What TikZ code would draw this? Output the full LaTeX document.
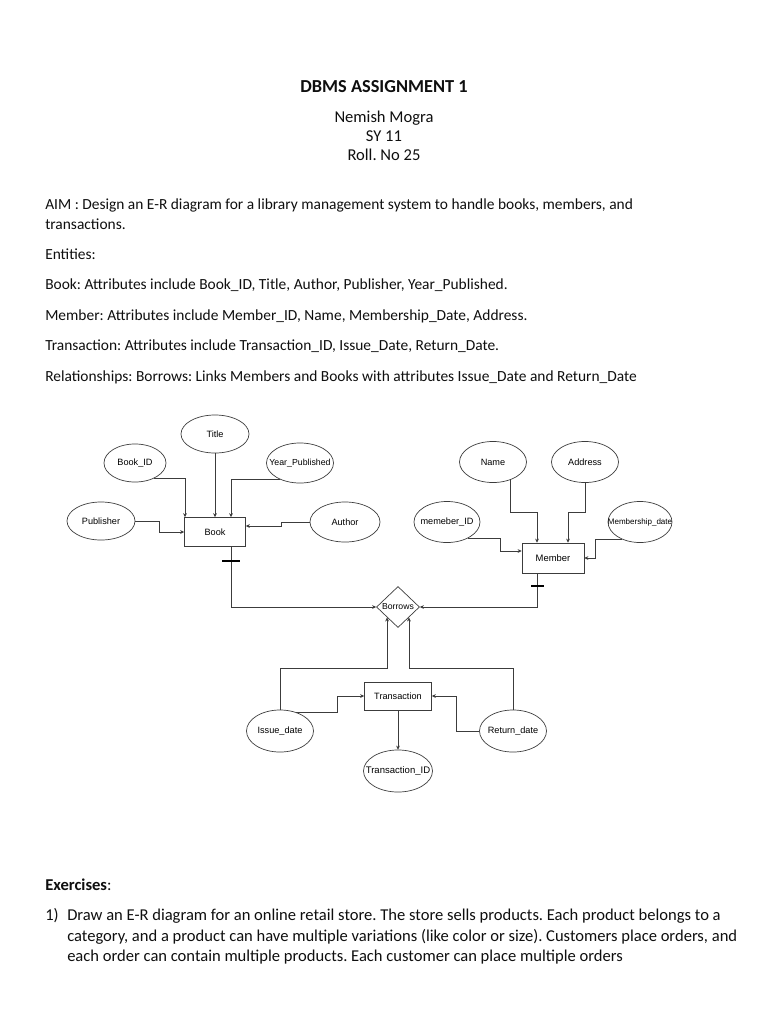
\documentclass[tikz,border=0pt]{standalone}
\usepackage{fontspec}
\setmainfont{Carlito}
\newfontfamily\diagfont{Liberation Sans}
\usetikzlibrary{shapes.geometric, arrows.meta, positioning, calc}
\definecolor{myline}{RGB}{60,60,60}
\definecolor{mytext}{RGB}{15,15,15}
\frenchspacing
\tikzset{
  doctext/.style={anchor=base west, inner sep=0pt, text=mytext,
    font=\fontsize{12.3}{14}\selectfont},
  centertext/.style={doctext, anchor=base, font=\fontsize{13.2}{15}\selectfont},
  extext/.style={doctext, font=\fontsize{13.2}{15}\selectfont},
  entity/.style={rectangle, draw=myline, fill=white, inner sep=0pt,
    font=\diagfont\fontsize{7.3}{8}\selectfont, line width=0.55pt},
  attr/.style={ellipse, draw=myline, fill=white, inner sep=0pt,
    minimum width=53.4pt, minimum height=32pt,
    font=\diagfont\fontsize{7.3}{8}\selectfont, line width=0.55pt,
    execute at begin node={\hbox to 0pt\bgroup\hss},
    execute at end node={\hss\egroup}},
  rel/.style={diamond, draw=myline, fill=white, inner sep=0pt, aspect=1,
    minimum width=34.3pt, minimum height=32.7pt,
    font=\diagfont\fontsize{6.9}{8}\selectfont, line width=0.55pt,
    execute at begin node={\hbox to 0pt\bgroup\hss},
    execute at end node={\hss\egroup}},
  arrow/.style={-{Stealth[length=3.2pt,width=3pt]}, line width=0.55pt, color=myline},
  tick/.style={line width=1.5pt, color=black}
}

\begin{document}
\begin{tikzpicture}[x=0.797pt, y=-0.797pt]
  \path[fill=white] (0,0) rectangle (768,1024);
  \useasboundingbox (0,0) rectangle (768,1024);

  % Header
  \node[centertext, font=\bfseries\fontsize{14.6}{16}\selectfont] (head) at (384,92) {DBMS ASSIGNMENT 1};
  \node[centertext] (stname) at (384,122) {Nemish Mogra};
  \node[centertext] (stclass) at (384,141) {SY 11};
  \node[centertext] (stroll) at (384,160) {Roll. No 25};

  % Problem text
  \node[doctext] (aim1) at (45,209) {AIM : Design an E-R diagram for a library management system to handle books, members, and};
  \node[doctext] (aim2) at (45,229) {transactions.};
  \node[doctext] (ents) at (45,259) {Entities:};
  \node[doctext] (bookdesc) at (45,289) {Book: Attributes include Book\_ID, Title, Author, Publisher, Year\_Published.};
  \node[doctext] (memdesc) at (45,320) {Member: Attributes include Member\_ID, Name, Membership\_Date, Address.};
  \node[doctext] (transdesc) at (45,350) {Transaction: Attributes include Transaction\_ID, Issue\_Date, Return\_Date.};
  \node[doctext] (reldesc) at (45,381) {Relationships: Borrows: Links Members and Books with attributes Issue\_Date and Return\_Date};

  % Entities
  \node[entity, minimum width=48.6pt, minimum height=23.1pt] (book) at (215,532) {Book};
  \node[entity, minimum width=49.4pt, minimum height=23.9pt, font=\diagfont\fontsize{7.5}{8}\selectfont] (member) at (553,558) {Member};
  \node[entity, minimum width=53.4pt, minimum height=22.3pt] (trans) at (398,696) {Transaction};
  \node[rel] (borrows) at (398,607) {Borrows};

  % Attributes
  \node[attr, minimum width=49.4pt, minimum height=30.3pt] (bookid) at (135,463) {Book\_ID};
  \node[attr, minimum width=54.2pt, minimum height=30.3pt] (title) at (215,434) {Title};
  \node[attr, minimum height=31.9pt, font=\diagfont\fontsize{7}{8}\selectfont] (yearpub) at (300,463) {Year\_Published};
  \node[attr, minimum width=54.2pt, minimum height=30.3pt] (publisher) at (101,521) {Publisher};
  \node[attr, minimum width=55.8pt, minimum height=31.9pt] (author) at (345,522) {Author};
  \node[attr, minimum height=32.7pt] (name) at (493,462) {Name};
  \node[attr, minimum height=32.7pt] (address) at (585,462) {Address};
  \node[attr, minimum width=52.6pt, minimum height=32.7pt] (memid) at (447,522) {memeber\_ID};
  \node[attr, minimum width=51pt, minimum height=32.7pt, font=\diagfont\fontsize{6.4}{8}\selectfont] (mshipdate) at (640,522) {Membership\_date};
  \node[attr, minimum height=33.5pt] (issue) at (280,731) {Issue\_date};
  \node[attr, minimum height=33.5pt] (return) at (513,731) {Return\_date};
  \node[attr, minimum width=55pt, minimum height=33.5pt, font=\diagfont\fontsize{7.6}{8}\selectfont] (transid) at (398,771) {Transaction\_ID};

  \coordinate (bl) at ($(borrows.south)!0.5!(borrows.west)$);
  \coordinate (br) at ($(borrows.south)!0.5!(borrows.east)$);

  % Arrows
  \draw[arrow] (bookid.-40) -| ($(book.north)+(-30,0)$);
  \draw[arrow] (title.south) -- (book.north);
  \draw[arrow] (yearpub.220) -| ($(book.north)+(16,0)$);
  \draw[arrow] (publisher.east) -- ++(24,0) |- (book.west);
  \draw[arrow] (author.west) -- ++(-28,0) |- ($(book.east)+(0,-6)$);
  \draw[arrow] (name.-45) |- ($(member.north)+(-16,-30)$) -- ($(member.north)+(-16,0)$);
  \draw[arrow] (address.south) |- ($(member.north)+(15,-30)$) -- ($(member.north)+(15,0)$);
  \draw[arrow] (memid.-38) -| ($(member.west)+(-21,-7)$) -- ($(member.west)+(0,-7)$);
  \draw[arrow] (mshipdate.225) -| ($(member.east)+(11,0)$) -- (member.east);
  \draw[arrow] ($(book.south)+(16,0)$) |- (borrows.west);
  \draw[arrow] ($(member.south)+(-16,0)$) |- (borrows.east);
  \draw[tick] ($(book.south)+(7,14)$) -- ++(18,0);
  \draw[tick] ($(member.south)+(-22,13)$) -- ++(13,0);
  \draw[arrow] (issue.north) |- ($(bl)+(0,51)$) -- (bl);
  \draw[arrow] (return.north) |- ($(br)+(0,51)$) -- (br);
  \draw[arrow] (issue.50) -| ($(trans.west)+(-27,0)$) -- (trans.west);
  \draw[arrow] (return.west) -| ($(trans.east)+(24,0)$) -- (trans.east);
  \draw[arrow] (trans.south) -- (transid.north);

  % Exercises
  \node[extext] (exhead) at (45,890) {\textbf{Exercises}:};
  \node[extext] (exnum) at (45,920) {1)};
  \node[extext] (ex1a) at (67,920) {Draw an E-R diagram for an online retail store. The store sells products. Each product belongs to a};
  \node[extext] (ex1b) at (67,941) {category, and a product can have multiple variations (like color or size). Customers place orders, and};
  \node[extext] (ex1c) at (67,961) {each order can contain multiple products. Each customer can place multiple orders};
\end{tikzpicture}
\end{document}
